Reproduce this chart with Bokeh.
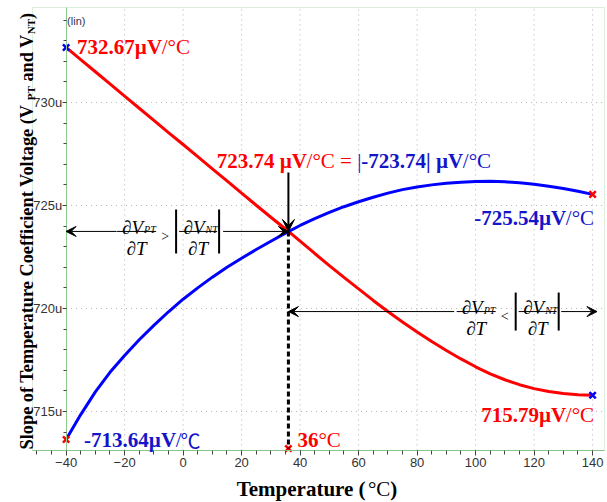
import math
from bokeh.plotting import figure
from bokeh.models import (Range1d, FixedTicker, Label, Arrow, VeeHead, LinearAxis,
                          BoxAnnotation)
from bokeh.embed import file_html
from bokeh.resources import INLINE

# ---------------- data ----------------
TEMP = list(range(-40, 141, 5))
PT_SLOPE = [732.67, 732.08, 731.49, 730.90, 730.31, 729.72, 729.13, 728.54, 727.96,
            727.37, 726.78, 726.19, 725.60, 725.01, 724.43, 723.86, 723.27, 722.67,
            722.08, 721.51, 720.95, 720.39, 719.85, 719.34, 718.86, 718.40, 717.96,
            717.55, 717.17, 716.83, 716.54, 716.30, 716.11, 715.97, 715.87, 715.81, 715.79]
NT_SLOPE_ABS = [713.64, 714.85, 715.95, 716.90, 717.72, 718.48, 719.18, 719.84, 720.45,
                721.00, 721.52, 722.00, 722.44, 722.86, 723.26, 723.66, 724.03, 724.36,
                724.66, 724.94, 725.18, 725.40, 725.60, 725.77, 725.90, 726.00, 726.08,
                726.13, 726.16, 726.17, 726.15, 726.10, 726.03, 725.93, 725.82, 725.69, 725.54]
X_TICKS = [-40, -20, 0, 20, 40, 60, 80, 100, 120, 140]
X_MINOR = list(range(-50, 141, 5))
Y_TICKS = [715, 720, 725, 730]
Y_TICK_LABELS = ["715u", "720u", "725u", "730u"]
Y_MINOR = list(range(714, 735))
CROSS_T, CROSS_V = 36, 723.74
MARK_V = 713.2            # x-axis marker at 36 °C
LEVEL2_V = 719.85         # level of the right double arrow
F1_T = -15.9              # centre of the left formula
F2_T = 100.2              # centre of the right formula
ARROW_RIGHT_T = 141.5

# ---------------- layout ----------------
W, H = 606, 501
# canvas = frame; data window of the whole canvas
CX0, CX1 = -62.43, 144.75
CY0, CY1 = 710.63, 734.95
# plot box (green frame)
BOX_L, BOX_R = -51.49, 144.07
BOX_B, BOX_T = 713.11, 734.61
SX = W / (CX1 - CX0)
SY = H / (CY1 - CY0)

RED = "#ff0000"
BLUE = "#0000ff"
TBLUE = "#1414c8"
GREEN = "#8cc88c"
TICKC = "#444444"
SERIF = "Liberation Serif"
SANS = "Liberation Sans"

# Times metrics (per 1000 em)
TB = {' ': 250, '(': 333, ')': 333, '-': 333, '.': 250, '/': 278, '=': 570, '|': 220,
      '°': 400, 'µ': 556, 'C': 722, 'N': 722, 'P': 611, 'S': 556, 'T': 667, 'V': 722,
      'a': 500, 'c': 444, 'd': 556, 'e': 444, 'f': 333, 'g': 500, 'i': 278, 'l': 278,
      'm': 833, 'n': 556, 'o': 500, 'p': 556, 'r': 444, 't': 333, 'u': 556}
TR = {' ': 250, '(': 333, ')': 333, '-': 333, '.': 250, '/': 278, '=': 564, '|': 200,
      '°': 400, 'µ': 500, 'C': 667, 'V': 722, '℃': 1000}


def tw(s, size, bold):
    t = TB if bold else TR
    return sum(t.get(c, 500) for c in s) * size / 1000.0


p = figure(width=W, height=H, x_range=Range1d(CX0, CX1), y_range=Range1d(CY0, CY1),
           output_backend="svg", toolbar_location=None, title=None,
           x_axis_location=None, y_axis_location=None, min_border=0)
p.background_fill_color = "white"
p.border_fill_color = "white"
p.outline_line_color = None
p.xgrid.visible = False
p.ygrid.visible = False

# dotted grid
gx = [t for t in X_TICKS if t != TEMP[0]]
p.segment(x0=gx, y0=[BOX_B] * len(gx), x1=gx, y1=[BOX_T] * len(gx),
          line_color="#b0b0b0", line_width=1, line_dash="1 4")
p.segment(x0=[TEMP[0]] * len(Y_TICKS), y0=Y_TICKS, x1=[BOX_R] * len(Y_TICKS), y1=Y_TICKS,
          line_color="#b0b0b0", line_width=1, line_dash="1 4")

p.add_layout(BoxAnnotation(left=BOX_L, right=BOX_R, bottom=BOX_B, top=BOX_T,
                           fill_color=None, line_color=GREEN, line_width=1))

xa = LinearAxis(fixed_location=BOX_B, bounds=(BOX_L, BOX_R),
                ticker=FixedTicker(ticks=X_TICKS, minor_ticks=X_MINOR))
xa.axis_line_color = GREEN
xa.major_tick_line_color = TICKC
xa.minor_tick_line_color = TICKC
xa.major_tick_in = 0
xa.major_tick_out = 5
xa.minor_tick_in = 0
xa.minor_tick_out = 4
xa.major_label_text_font = SANS
xa.major_label_text_font_size = "13px"
xa.major_label_text_color = "#333333"
xa.major_label_standoff = 3
p.add_layout(xa, "below")

ya = LinearAxis(fixed_location=TEMP[0], bounds=(BOX_B, BOX_T),
                ticker=FixedTicker(ticks=Y_TICKS, minor_ticks=Y_MINOR))
ya.major_label_overrides = dict(zip(Y_TICKS, Y_TICK_LABELS))
ya.axis_line_color = GREEN
ya.major_tick_line_color = TICKC
ya.minor_tick_line_color = TICKC
ya.major_tick_in = 0
ya.major_tick_out = 4
ya.minor_tick_in = 0
ya.minor_tick_out = 3
ya.major_label_text_font = SANS
ya.major_label_text_font_size = "13px"
ya.major_label_text_color = "#333333"
ya.major_label_standoff = 0
p.add_layout(ya, "left")

# curves
p.line(TEMP, PT_SLOPE, line_color=RED, line_width=3)
p.line(TEMP, NT_SLOPE_ABS, line_color=BLUE, line_width=3)

# end markers
p.scatter([TEMP[0], TEMP[-1]], [PT_SLOPE[0], PT_SLOPE[-1]], marker="x", size=9,
          line_color=BLUE, line_width=2.5)
p.scatter([TEMP[0], TEMP[-1], CROSS_T], [NT_SLOPE_ABS[0], NT_SLOPE_ABS[-1], MARK_V],
          marker="x", size=9, line_color=RED, line_width=2.5)

# dashed drop line
p.segment(x0=[CROSS_T], y0=[CROSS_V], x1=[CROSS_T], y1=[MARK_V],
          line_color="black", line_width=3, line_dash="5 3")


def arrow(xs, ys, xe, ye, lw=1, size=10):
    p.add_layout(Arrow(end=VeeHead(size=size, fill_color="black", line_color="black"),
                       x_start=xs, y_start=ys, x_end=xe, y_end=ye,
                       line_color="black", line_width=lw))


arrow(CROSS_T, CROSS_V + 59 / SY, CROSS_T, CROSS_V, lw=2, size=12)
arrow(F1_T - 20 / SX, CROSS_V, TEMP[0], CROSS_V)
arrow(F1_T + 86.5 / SX, CROSS_V, CROSS_T, CROSS_V)
arrow(F2_T - 22 / SX, LEVEL2_V, CROSS_T, LEVEL2_V)
arrow(F2_T + 85 / SX, LEVEL2_V, ARROW_RIGHT_T, LEVEL2_V)


def lab(x, y, text, dx=0, dy=0, size=17, style="normal", color="black", font=SERIF,
        align="left", angle=0):
    p.add_layout(Label(x=x, y=y, x_offset=dx, y_offset=dy, text=text,
                       text_font=font, text_font_size="%.1fpx" % size,
                       text_font_style=style, text_color=color, text_align=align,
                       text_baseline="alphabetic", angle=angle))


def rich(x, y, pieces, size, dx=0, dy=0, align="left", angle=0):
    """pieces: (text, color, bold, size_or_None, cross_shift)"""
    def psize(pc):
        return pc[3] if len(pc) > 3 and pc[3] else size
    total = sum(tw(pc[0], psize(pc), pc[2]) for pc in pieces)
    off = -(total if align == "right" else total / 2 if align == "center" else 0)
    for pc in pieces:
        t, c, b = pc[0], pc[1], pc[2]
        s = psize(pc)
        shift = pc[4] if len(pc) > 4 else 0
        stripped = t.lstrip(" ")
        off += tw(t[:len(t) - len(stripped)], s, b)
        if angle:
            lab(x, y, stripped, dx=dx + shift, dy=dy + off, size=s,
                style="bold" if b else "normal", color=c, angle=angle)
        else:
            lab(x, y, stripped, dx=dx + off, dy=dy - shift, size=s,
                style="bold" if b else "normal", color=c)
        off += tw(stripped, s, b)


def formula(cx, cy, op, half_bar):
    bx0, bx1, by0, by1 = [], [], [], []
    for c, hw in ((0, 19.5), (61.5, 19.0)):
        bx0.append(cx + (c - hw) / SX); bx1.append(cx + (c + hw) / SX)
        by0.append(cy); by1.append(cy)
    p.segment(x0=bx0, y0=by0, x1=bx1, y1=by1, line_color="black", line_width=1)
    ax = [cx + 39.5 / SX, cx + 82.5 / SX]
    p.segment(x0=ax, y0=[cy - half_bar / SY] * 2, x1=ax, y1=[cy + half_bar / SY] * 2,
              line_color="black", line_width=2)
    for c, sub in ((0, "PT"), (61.5, "NT")):
        lab(cx, cy, "∂V", dx=c - 4, dy=4, size=19, style="italic", align="center")
        lab(cx, cy, sub, dx=c + 7.5, dy=1.5, size=10, style="italic")
        lab(cx, cy, "∂T", dx=c, dy=-17, size=19, style="italic", align="center")
    lab(cx, cy, op, dx=28.5, dy=-5, size=14, align="center")


formula(F1_T, CROSS_V, ">", 22)
formula(F2_T, LEVEL2_V, "<", 19)

# value annotations
rich(TEMP[0], PT_SLOPE[0], [("732.67µV", RED, True), ("/°C", RED, False)], 21, dx=11)
rich(CROSS_T, CROSS_V, [("723.74 µV", RED, True), ("/°C = ", RED, False),
                        ("|", TBLUE, False), ("-723.74| ", TBLUE, True),
                        ("µV", TBLUE, True), ("/°C", TBLUE, False)],
     21, dx=65.5, dy=70, align="center")
rich(TEMP[-1], NT_SLOPE_ABS[-1], [("-725.54µV", TBLUE, True), ("/°C", TBLUE, False)],
     21, dx=1.5, dy=-24, align="right")
rich(TEMP[-1], PT_SLOPE[-1], [("715.79µV", RED, True), ("/°C", RED, False)],
     21, dx=1.5, dy=-20, align="right")
rich(TEMP[0], NT_SLOPE_ABS[0], [("-713.64µV", TBLUE, True), ("/", TBLUE, False)],
     21, dx=18, dy=-1)
lab(TEMP[0], NT_SLOPE_ABS[0], "℃", dx=18 + tw("-713.64µV/", 21, True) - 1, dy=-1,
    size=20, color=TBLUE, font="Noto Sans CJK SC")
rich(CROSS_T, MARK_V, [("36", RED, True), ("°C", RED, False)], 21, dx=9, dy=9)

lab(TEMP[0], BOX_T, "(lin)", dx=1, dy=-13, size=11, color="#333355", font=SANS)

# axis titles
XT_CENTER, XT_V = 45.78, 711.26
rich(XT_CENTER, XT_V, [("Temperature (", "black", True), ("°C", "black", False),
                       (")", "black", True)], 21, align="center")

YT_T, YT_V = -53.54, 713.16
rich(YT_T, YT_V, [("Slope of Temperature Coefficient Voltage (V", "black", True),
                  ("PT", "black", True, 11, 4), (" and V", "black", True),
                  ("NT", "black", True, 11, 4), (")", "black", True)],
     18.3, angle=math.pi / 2)

open("out.html", "w").write(file_html(p, INLINE, "chart"))
